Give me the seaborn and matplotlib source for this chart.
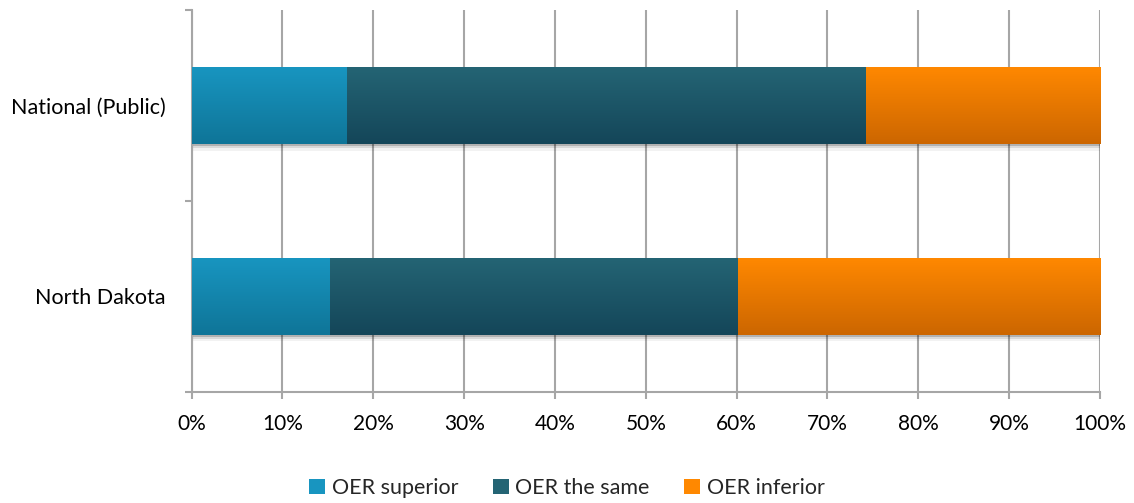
import numpy as np
import pandas as pd
import matplotlib
matplotlib.use("Agg")
import matplotlib.pyplot as plt
import seaborn as sns
from matplotlib.patches import Patch
from matplotlib.colors import LinearSegmentedColormap

# values (percent of respondents)
groups = ["National (Public)", "North Dakota"]
superior = [17.0, 15.1]
same = [57.2, 44.9]
inferior = [25.8, 40.0]
series = ["OER superior", "OER the same", "OER inferior"]
top_colors = ["#1895C0", "#246474", "#FF8800"]
bottom_colors = ["#0F7598", "#144659", "#CC6600"]

df = pd.DataFrame({"group": groups, "superior": superior, "same": same, "inferior": inferior})
df["c1"] = df["superior"]
df["c2"] = df["c1"] + df["same"]
df["c3"] = df["c2"] + df["inferior"]

sns.set_theme(style="white")
plt.rcParams['font.family'] = ['Lato', 'DejaVu Sans']

fig, ax = plt.subplots(figsize=(11.34, 5.03), dpi=100)
fig.subplots_adjust(left=0.169, right=0.970, top=0.980, bottom=0.221)

# stacked bars: widest cumulative first, then the shorter ones on top
cum_cols = ["c3", "c2", "c1"]
cum_idx = [2, 1, 0]
for i, col in enumerate(cum_cols):
    sns.barplot(data=df, x=col, y="group", order=groups, color=top_colors[cum_idx[i]],
                width=0.4, saturation=1, ax=ax, zorder=3 + i, linewidth=0)

# vertical gradient fill for each bar segment
patches = list(ax.patches)
grad = np.linspace(0, 1, 100).reshape(-1, 1)
for k, p in enumerate(patches):
    si = cum_idx[k // len(groups)]
    cmap = LinearSegmentedColormap.from_list("g", [top_colors[si], bottom_colors[si]])
    x0, y0, w, h = p.get_x(), p.get_y(), p.get_width(), p.get_height()
    # soft shadow under the bar
    if si == 2:
        for s, a in zip([0.012, 0.024, 0.036], [0.18, 0.10, 0.05]):
            ax.add_patch(plt.Rectangle((x0, y0 + s), w, h, color="black", alpha=a, lw=0, zorder=2))
    im = ax.imshow(grad, extent=(x0, x0 + w, y0 + h, y0), origin="upper", cmap=cmap,
                   aspect="auto", zorder=3 + k // len(groups) + 0.5)
    im.set_clip_path(p)

ax.set_xlim(0, 100)
ax.set_ylim(1.5, -0.5)
ax.set_xticks(np.arange(0, 101, 10))
ax.set_xticklabels([f"{v}%" for v in range(0, 101, 10)])
ax.set_yticks([0, 1])
ax.set_yticks([-0.5, 0.5, 1.5], minor=True)
ax.set_xlabel("")
ax.set_ylabel("")

grid_c = "#A6A6A6"
ax.grid(axis="x", color=grid_c, linewidth=1.5, zorder=0)
ax.set_axisbelow(True)
for side in ["top", "right"]:
    ax.spines[side].set_visible(False)
for side in ["left", "bottom"]:
    ax.spines[side].set_color(grid_c)
    ax.spines[side].set_linewidth(1.5)

ax.tick_params(axis="x", bottom=True, length=5, width=1.5, color=grid_c, pad=11,
               labelsize=15, labelcolor="black")
ax.tick_params(axis="y", which="major", left=False, length=0, pad=19, labelsize=15.5, labelcolor="black")
ax.tick_params(axis="y", which="minor", left=True, length=5, width=1.5, color=grid_c)

handles = [Patch(facecolor=c, edgecolor="none") for c in top_colors]
fig.legend(handles, series, loc="center", bbox_to_anchor=(0.5, 0.03), ncol=3, frameon=False,
           fontsize=15.5, handlelength=0.75, handleheight=0.75, handletextpad=0.3, columnspacing=1.6)

fig.savefig("out.png", dpi=100)
